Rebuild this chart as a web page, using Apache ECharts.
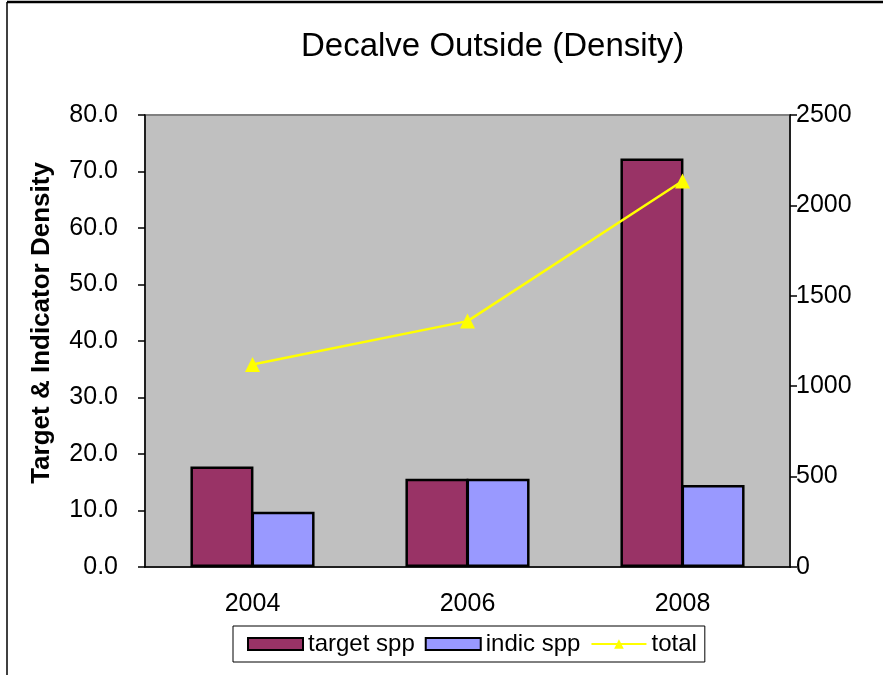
<!DOCTYPE html>
<html>
<head>
<meta charset="utf-8">
<script src="https://cdn.jsdelivr.net/npm/echarts@6/dist/echarts.min.js"></script>
<style>
  html, body { margin: 0; padding: 0; background: #ffffff; }
  #chart { width: 883px; height: 675px; }
</style>
</head>
<body>
<div id="chart"></div>
<script>
// data
var years = ['2004', '2006', '2008'];
var targetSpp = [17.8, 15.6, 72.3];   // left axis
var indicSpp = [9.8, 15.6, 14.5];     // left axis
var totalDensity = [1120, 1360, 2135]; // right axis

var font = "'Liberation Sans', Arial, sans-serif";
var myChart = echarts.init(document.getElementById('chart'));

myChart.setOption({
    backgroundColor: '#ffffff',
    textStyle: { fontFamily: font, color: '#000' },
    title: {
        text: 'Decalve Outside (Density)',
        left: 296,
        top: 25,
        textStyle: { fontFamily: font, fontSize: 33, fontWeight: 'normal', color: '#000' }
    },
    // outer frame: top and left edge only
    graphic: [
        { type: 'line', shape: { x1: 7, y1: 2, x2: 883, y2: 2 }, style: { stroke: '#000', lineWidth: 2.5 }, silent: true },
        { type: 'line', shape: { x1: 7, y1: 2, x2: 7, y2: 675 }, style: { stroke: '#000', lineWidth: 1.5 }, silent: true }
    ],
    legend: {
        left: 233,
        top: 626,
        padding: [6, 8, 6, 14],
        itemGap: 10,
        itemWidth: 55,
        itemHeight: 12,
        borderColor: '#000',
        borderWidth: 1,
        textStyle: { fontFamily: font, fontSize: 24, color: '#000' },
        data: [
            { name: 'target spp', icon: 'rect' },
            { name: 'indic spp', icon: 'rect' },
            'total'
        ]
    },
    grid: {
        show: true,
        left: 145,
        right: 93,
        top: 115,
        bottom: 108,
        backgroundColor: '#C0C0C0',
        borderColor: '#808080',
        borderWidth: 2
    },
    xAxis: {
        type: 'category',
        data: years,
        axisLine: { lineStyle: { color: '#000', width: 1.5 } },
        axisTick: { length: 8, lineStyle: { color: '#000', width: 1.5 } },
        axisLabel: { fontSize: 25, color: '#000', margin: 25 }
    },
    yAxis: [
        {
            type: 'value',
            min: 0,
            max: 80,
            interval: 10,
            name: 'Target & Indicator Density',
            nameLocation: 'middle',
            nameRotate: 90,
            nameGap: 90,
            nameTextStyle: {
                fontFamily: font, fontSize: 26, fontWeight: 'bold', color: '#000',
                padding: [0, 0, 0, 36]
            },
            axisLine: { show: true, lineStyle: { color: '#000', width: 1.5 } },
            axisTick: { show: true, length: 7, lineStyle: { color: '#000', width: 1.5 } },
            axisLabel: {
                fontSize: 25, color: '#000', margin: 27,
                formatter: function (v) { return v.toFixed(1); }
            },
            splitLine: { show: false }
        },
        {
            type: 'value',
            min: 0,
            max: 2500,
            interval: 500,
            position: 'right',
            axisLine: { show: true, lineStyle: { color: '#000', width: 1.5 } },
            axisTick: { show: true, length: 7, lineStyle: { color: '#000', width: 1.5 } },
            axisLabel: {
                fontSize: 25, color: '#000', margin: 6,
                formatter: function (v) { return String(v); }
            },
            splitLine: { show: false }
        }
    ],
    series: [
        {
            name: 'target spp',
            type: 'bar',
            yAxisIndex: 0,
            barWidth: 63,
            barGap: '-3%',
            itemStyle: { color: '#993366', borderColor: '#000', borderWidth: 2.5 },
            data: targetSpp
        },
        {
            name: 'indic spp',
            type: 'bar',
            yAxisIndex: 0,
            barWidth: 63,
            barGap: '-3%',
            itemStyle: { color: '#9999FF', borderColor: '#000', borderWidth: 2.5 },
            data: indicSpp
        },
        {
            name: 'total',
            type: 'line',
            yAxisIndex: 1,
            symbol: 'triangle',
            symbolSize: 15,
            lineStyle: { color: '#FFFF00', width: 2.5 },
            itemStyle: { color: '#FFFF00' },
            data: totalDensity
        }
    ]
});
</script>
</body>
</html>
